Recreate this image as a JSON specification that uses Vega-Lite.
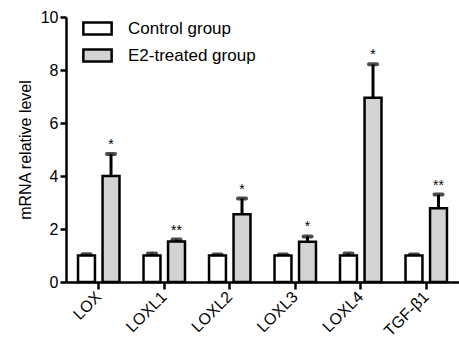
{
  "$schema": "https://vega.github.io/schema/vega-lite/v6.json",
  "width": 393,
  "height": 265,
  "autosize": {"type": "none"},
  "padding": {"left": 66, "top": 17, "right": 0, "bottom": 66},
  "background": "white",
  "config": {
    "font": "Liberation Sans",
    "view": {"stroke": null},
    "axis": {"domainColor": "black", "tickColor": "black", "labelColor": "black", "titleColor": "black", "grid": false}
  },
  "data": {
    "values": [
      {"gene": "LOX", "group": "Control group", "value": 1.0, "err": 1.05, "sig": ""},
      {"gene": "LOX", "group": "E2-treated group", "value": 4.0, "err": 4.83, "sig": "*"},
      {"gene": "LOXL1", "group": "Control group", "value": 1.0, "err": 1.08, "sig": ""},
      {"gene": "LOXL1", "group": "E2-treated group", "value": 1.53, "err": 1.6, "sig": "**"},
      {"gene": "LOXL2", "group": "Control group", "value": 1.0, "err": 1.04, "sig": ""},
      {"gene": "LOXL2", "group": "E2-treated group", "value": 2.56, "err": 3.15, "sig": "*"},
      {"gene": "LOXL3", "group": "Control group", "value": 1.0, "err": 1.04, "sig": ""},
      {"gene": "LOXL3", "group": "E2-treated group", "value": 1.52, "err": 1.72, "sig": "*"},
      {"gene": "LOXL4", "group": "Control group", "value": 1.0, "err": 1.08, "sig": ""},
      {"gene": "LOXL4", "group": "E2-treated group", "value": 6.95, "err": 8.22, "sig": "*"},
      {"gene": "TGF-β1", "group": "Control group", "value": 1.0, "err": 1.04, "sig": ""},
      {"gene": "TGF-β1", "group": "E2-treated group", "value": 2.78, "err": 3.3, "sig": "**"}
    ]
  },
  "encoding": {
    "x": {
      "field": "gene", "type": "nominal",
      "sort": ["LOX", "LOXL1", "LOXL2", "LOXL3", "LOXL4", "TGF-β1"],
      "scale": {"paddingInner": 0, "paddingOuter": 0},
      "axis": {
        "title": null, "labelAngle": -45, "labelAlign": "right", "labelBaseline": "middle",
        "labelFontSize": 16, "labelPadding": 5,
        "domainWidth": 2.5, "tickWidth": 2.5, "tickSize": 7
      }
    }
  },
  "layer": [
    {
      "mark": {"type": "rule", "strokeWidth": 3, "color": "black"},
      "encoding": {
        "xOffset": {"field": "group", "type": "nominal", "scale": {"domain": ["Control group", "E2-treated group"], "paddingInner": 0.31, "paddingOuter": 0.49}},
        "y": {"field": "value", "type": "quantitative"},
        "y2": {"field": "err"}
      }
    },
    {
      "mark": {"type": "tick", "thickness": 4, "size": 12, "color": "black", "cornerRadius": 2},
      "encoding": {
        "xOffset": {"field": "group", "type": "nominal"},
        "y": {"field": "err", "type": "quantitative"}
      }
    },
    {
      "mark": {"type": "bar", "stroke": "black", "strokeWidth": 2.5},
      "encoding": {
        "xOffset": {"field": "group", "type": "nominal"},
        "y": {
          "field": "value", "type": "quantitative",
          "scale": {"domain": [0, 10]},
          "axis": {
            "title": "mRNA relative level", "titleFontSize": 16, "titleFontWeight": "normal", "titlePadding": 7,
            "values": [0, 2, 4, 6, 8, 10], "labelFontSize": 16,
            "domainWidth": 2.5, "tickWidth": 2.5, "tickSize": 6, "labelPadding": 2
          }
        },
        "fill": {
          "field": "group", "type": "nominal",
          "scale": {"domain": ["Control group", "E2-treated group"], "range": ["#ffffff", "#d3d3d3"]},
          "legend": {
            "title": null, "orient": "none", "legendX": 16, "legendY": -4,
            "symbolType": "M-1,-0.42H1V0.42H-1Z", "symbolSize": 800,
            "symbolStrokeColor": "black", "symbolStrokeWidth": 2.5,
            "labelFontSize": 17, "labelColor": "black", "rowPadding": -1, "labelOffset": 15
          }
        }
      }
    },
    {
      "mark": {"type": "text", "fontSize": 14, "dy": -9, "color": "black"},
      "encoding": {
        "xOffset": {"field": "group", "type": "nominal"},
        "y": {"field": "err", "type": "quantitative"},
        "text": {"field": "sig"}
      }
    }
  ]
}
